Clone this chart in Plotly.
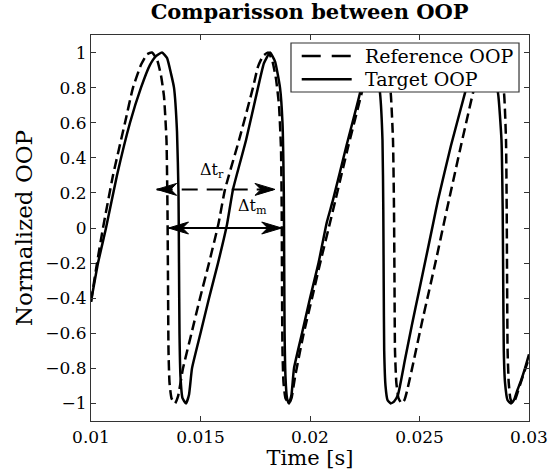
import plotly.graph_objects as go

# ---------------- data (time in seconds, normalized OOP) ----------------
target_t = [0.010000, 0.010320, 0.010685, 0.011187, 0.011781, 0.012283, 0.012694, 0.012968,
            0.013242, 0.013470, 0.013653, 0.013790, 0.013927, 0.013995, 0.014018, 0.014041,
            0.014087, 0.014178, 0.014338, 0.014475, 0.014612, 0.015000, 0.015388, 0.015799,
            0.016210, 0.016484, 0.017078, 0.017626, 0.017900, 0.018174, 0.018402, 0.018630,
            0.018744, 0.018804, 0.018822, 0.018840, 0.018881, 0.018950, 0.019041, 0.019155,
            0.019269, 0.019635, 0.020000, 0.020388, 0.020763, 0.021050, 0.021667, 0.022283,
            0.022511, 0.022740, 0.022968, 0.023196, 0.023310, 0.023347, 0.023365, 0.023388,
            0.023448, 0.023539, 0.023685, 0.023836, 0.024018, 0.024338, 0.024658, 0.024977,
            0.025297, 0.025630, 0.025845, 0.026438, 0.027078, 0.027352, 0.027626, 0.027854,
            0.028082, 0.028310, 0.028584, 0.028744, 0.028799, 0.028822, 0.028849, 0.028904,
            0.029018, 0.029178, 0.029315, 0.029452, 0.029635, 0.029817, 0.030000]
target_y = [-0.42, -0.20, 0.00, 0.30, 0.60, 0.80, 0.93, 0.98,
            1.00, 0.97, 0.88, 0.80, 0.55, 0.20, -0.20, -0.60,
            -0.85, -0.97, -1.00, -0.95, -0.80, -0.60, -0.40, -0.20,
            0.02, 0.22, 0.50, 0.80, 0.94, 1.00, 0.95, 0.80,
            0.60, 0.20, -0.20, -0.60, -0.85, -0.97, -1.00, -0.95,
            -0.80, -0.60, -0.40, -0.20, 0.03, 0.16, 0.47, 0.77,
            0.92, 1.00, 0.95, 0.77, 0.50, 0.10, -0.30, -0.70,
            -0.90, -0.98, -1.00, -0.99, -0.95, -0.75, -0.55, -0.36,
            -0.17, 0.03, 0.16, 0.47, 0.77, 0.90, 0.97, 1.00,
            0.97, 0.90, 0.77, 0.50, 0.10, -0.30, -0.70, -0.88,
            -0.98, -1.00, -0.98, -0.93, -0.87, -0.80, -0.72]

reference_t = [0.010000, 0.010274, 0.010548, 0.011005, 0.011553, 0.011918, 0.012283, 0.012557,
               0.012785, 0.013014, 0.013196, 0.013333, 0.013447, 0.013493, 0.013516, 0.013539,
               0.013584, 0.013676, 0.013836, 0.013973, 0.014201, 0.014589, 0.014977, 0.015388,
               0.015813, 0.016119, 0.016758, 0.017397, 0.017626, 0.017854, 0.018082, 0.018265,
               0.018447, 0.018584, 0.018676, 0.018708, 0.018721, 0.018744, 0.018790, 0.018881,
               0.019041, 0.019155, 0.019315, 0.019680, 0.020091, 0.020502, 0.020913, 0.021164,
               0.021735, 0.022361, 0.022603, 0.022831, 0.023105, 0.023333, 0.023539, 0.023685,
               0.023790, 0.023836, 0.023858, 0.023881, 0.023941, 0.024041, 0.024187, 0.024315,
               0.024429, 0.024749, 0.025091, 0.025434, 0.025776, 0.026119, 0.026347, 0.026895,
               0.027443, 0.027717, 0.027991, 0.028265, 0.028470, 0.028676, 0.028858, 0.028950,
               0.028982, 0.029000, 0.029023, 0.029073, 0.029146, 0.029247, 0.029361, 0.029498,
               0.029680, 0.030000]
reference_y = [-0.42, -0.20, 0.00, 0.30, 0.60, 0.80, 0.93, 0.99,
               1.00, 0.96, 0.87, 0.75, 0.50, 0.10, -0.30, -0.70,
               -0.88, -0.97, -1.00, -0.96, -0.80, -0.60, -0.40, -0.20,
               0.02, 0.22, 0.50, 0.80, 0.92, 0.98, 1.00, 0.96,
               0.85, 0.70, 0.45, 0.10, -0.30, -0.70, -0.88, -0.97,
               -1.00, -0.97, -0.85, -0.62, -0.40, -0.18, 0.03, 0.16,
               0.46, 0.77, 0.90, 0.97, 1.00, 0.96, 0.88, 0.77,
               0.50, 0.10, -0.30, -0.70, -0.88, -0.97, -1.00, -0.98,
               -0.93, -0.75, -0.55, -0.36, -0.17, 0.03, 0.16, 0.47,
               0.77, 0.90, 0.97, 1.00, 0.96, 0.88, 0.77, 0.50,
               0.10, -0.30, -0.70, -0.88, -0.97, -1.00, -0.98, -0.93,
               -0.86, -0.74]

series_names = ["Reference OOP", "Target OOP"]

x_ticks = [0.01, 0.015, 0.02, 0.025, 0.03]
x_tick_labels = ["0.01", "0.015", "0.02", "0.025", "0.03"]
y_ticks = [1, 0.8, 0.6, 0.4, 0.2, 0, -0.2, -0.4, -0.6, -0.8, -1]
y_tick_labels = ["1", "0.8", "0.6", "0.4", "0.2", "0", "\u22120.2", "\u22120.4", "\u22120.6",
                 "\u22120.8", "\u22121"]

# delay arrows: (start time, end time, level)
dt_r = (0.01300, 0.01840, 0.22)
dt_m = (0.013539, 0.018708, 0.0)
label_r_pos = (0.01553, 0.33)
label_m_pos = (0.01737, 0.12)

FONT = "DejaVu Serif"
X_RANGE = [0.01, 0.03]
Y_RANGE = [-1.1, 1.1]
W, H = 549, 472
M = dict(l=91, r=20, t=35, b=51)
DASH_CURVE = "10px,5px"
CURVE_LINE = dict(color="black", width=2.5, shape="spline", smoothing=0.45)

# legend box layout (paper fractions)
LEG_BOX = dict(x0=0.4566, x1=0.9772, y0=0.8523, y1=0.9793)
LEG_LINE_X = (0.4811, 0.5952)
LEG_ROW_Y = (0.9456, 0.8852)
LEG_TEXT_X = 0.6210

# arrowhead size in pixels (style), converted into axis units
HEAD_LEN_PX, HEAD_HALF_PX = 20, 6
px_x = (X_RANGE[1] - X_RANGE[0]) / (W - M["l"] - M["r"])
px_y = (Y_RANGE[1] - Y_RANGE[0]) / (H - M["t"] - M["b"])

fig = go.Figure()
fig.add_trace(go.Scatter(x=reference_t, y=reference_y, mode="lines", name=series_names[0],
                         showlegend=False, line=dict(CURVE_LINE, dash=DASH_CURVE)))
fig.add_trace(go.Scatter(x=target_t, y=target_y, mode="lines", name=series_names[1],
                         showlegend=False, line=dict(CURVE_LINE)))

# arrow shafts
fig.add_trace(go.Scatter(x=[dt_r[0], dt_r[1]], y=[dt_r[2], dt_r[2]], mode="lines", showlegend=False,
                         hoverinfo="skip", line=dict(color="black", width=2, dash="16px,9px")))
fig.add_trace(go.Scatter(x=[dt_m[0], dt_m[1]], y=[dt_m[2], dt_m[2]], mode="lines", showlegend=False,
                         hoverinfo="skip", line=dict(color="black", width=2)))


def head(tip_x, lvl, direction):
    L = HEAD_LEN_PX * px_x * direction
    h = HEAD_HALF_PX * px_y
    xs = [tip_x, tip_x + L, tip_x + 0.7 * L, tip_x + L, tip_x]
    ys = [lvl, lvl + h, lvl, lvl - h, lvl]
    fig.add_trace(go.Scatter(x=xs, y=ys, mode="lines", fill="toself", fillcolor="black",
                             line=dict(color="black", width=1), showlegend=False, hoverinfo="skip"))


for (a, b, lvl) in (dt_r, dt_m):
    head(a, lvl, 1)
    head(b, lvl, -1)

fig.add_annotation(x=label_r_pos[0], y=label_r_pos[1], text="\u0394t<sub>r</sub>", showarrow=False,
                   font=dict(family=FONT, size=16, color="black"))
fig.add_annotation(x=label_m_pos[0], y=label_m_pos[1], text="\u0394t<sub>m</sub>", showarrow=False,
                   font=dict(family=FONT, size=16, color="black"))

# legend (box, line samples, labels)
fig.add_shape(type="rect", xref="paper", yref="paper", layer="above", fillcolor="white",
              line=dict(color="#333333", width=1.2), **LEG_BOX)
for i, dash in enumerate(["19px,11px", "solid"]):
    fig.add_shape(type="line", xref="paper", yref="paper", layer="above",
                  x0=LEG_LINE_X[0], x1=LEG_LINE_X[1], y0=LEG_ROW_Y[i], y1=LEG_ROW_Y[i],
                  line=dict(color="black", width=2.5, dash=dash))
    fig.add_annotation(x=LEG_TEXT_X, y=LEG_ROW_Y[i], xref="paper", yref="paper", xanchor="left",
                       yanchor="middle", text=series_names[i], showarrow=False,
                       font=dict(family=FONT, size=19, color="black"))

axis_common = dict(showline=True, linecolor="#333333", linewidth=1.2, mirror="ticks", ticks="inside",
                   ticklen=5, tickcolor="#333333", showgrid=False, zeroline=False, automargin=False,
                   tickfont=dict(family=FONT, size=17, color="black"))

fig.update_layout(
    width=W, height=H,
    margin=M,
    paper_bgcolor="white", plot_bgcolor="white",
    title=dict(text="<b>Comparisson between OOP</b>", x=0.564, xanchor="center",
               y=0.975, yanchor="middle",
               font=dict(family=FONT, size=21, color="black")),
    xaxis=dict(range=X_RANGE, tickvals=x_ticks, ticktext=x_tick_labels,
               title=dict(text="Time [s]", font=dict(family=FONT, size=21, color="black"), standoff=0),
               **axis_common),
    yaxis=dict(range=Y_RANGE, tickvals=y_ticks, ticktext=y_tick_labels,
               title=dict(text="Normalized OOP", font=dict(family=FONT, size=23, color="black"), standoff=6),
               **axis_common),
    showlegend=False,
)

fig.write_html("out.html", config={"displayModeBar": False},
               post_script="document.body.style.margin='0px';")
